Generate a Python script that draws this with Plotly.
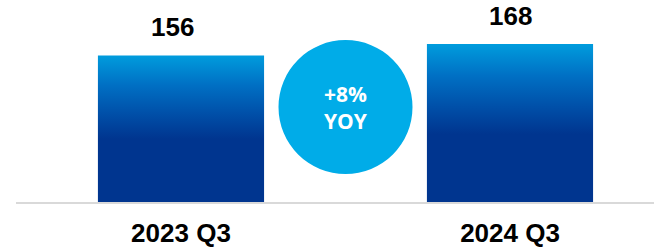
import plotly.graph_objects as go

categories = ["2023 Q3", "2024 Q3"]
values = [156, 168]
value_labels = ["156", "168"]
badge_lines = ["+8%", "YOY"]

positions = list(range(len(categories)))
bar_width = 0.505
label_nudge_px = [-8, 0]  # style: horizontal nudge of value labels as in the reference

gradient_scale = [
    [0.0, "#00358F"],
    [0.43, "#00358F"],
    [0.6, "#004FA8"],
    [0.8, "#0070C4"],
    [1.0, "#009CDD"],
]

fig = go.Figure()
for pos, val in zip(positions, values):
    x0, x1 = pos - bar_width / 2, pos + bar_width / 2
    fig.add_trace(go.Scatter(
        x=[x0, x1, x1, x0, x0],
        y=[0, 0, val, val, 0],
        mode="lines",
        line=dict(width=0),
        fill="toself",
        fillgradient=dict(type="vertical", colorscale=gradient_scale, start=0, stop=val),
        hoverinfo="skip",
        showlegend=False,
    ))

for pos, val, lab, nudge in zip(positions, values, value_labels, label_nudge_px):
    fig.add_annotation(
        x=pos, y=val, text=f"<b>{lab}</b>", showarrow=False,
        yanchor="bottom", yshift=11, xshift=nudge,
        font=dict(family="Liberation Sans, Arial", size=26, color="#000000"),
    )

# YOY badge between the bars
mid_x = (positions[0] + positions[1]) / 2
badge_y = 101
fig.add_shape(
    type="circle", xref="x", yref="y",
    xsizemode="pixel", ysizemode="pixel",
    xanchor=mid_x, yanchor=badge_y,
    x0=-67, x1=67, y0=-67, y1=67,
    fillcolor="#00ACE8", line=dict(width=0), layer="above",
)
fig.add_annotation(
    x=mid_x, y=badge_y, text="<b>" + "<br>".join(badge_lines) + "</b>",
    showarrow=False, align="center",
    font=dict(family="Open Sans", size=21, color="#FFFFFF"),
)

fig.update_layout(
    width=654, height=250,
    margin=dict(l=16, r=0, t=10, b=48),
    paper_bgcolor="white", plot_bgcolor="white",
    showlegend=False,
    xaxis=dict(
        range=[-0.5015, 1.4377],
        tickvals=positions, ticktext=[f"<b>{c}</b>" for c in categories],
        tickfont=dict(family="Liberation Sans, Arial", size=26, color="#000000"),
        showgrid=False, zeroline=False,
        showline=True, linecolor="#D9D9D9", linewidth=2,
        ticks="", ticklabelstandoff=7, automargin=False,
        fixedrange=True,
    ),
    yaxis=dict(
        range=[0, 204.3], visible=False, showgrid=False, zeroline=False,
        fixedrange=True,
    ),
)

fig.write_html(
    "out.html",
    config={"displayModeBar": False},
    post_script="document.body.style.margin='0';document.body.style.overflow='hidden';",
)
